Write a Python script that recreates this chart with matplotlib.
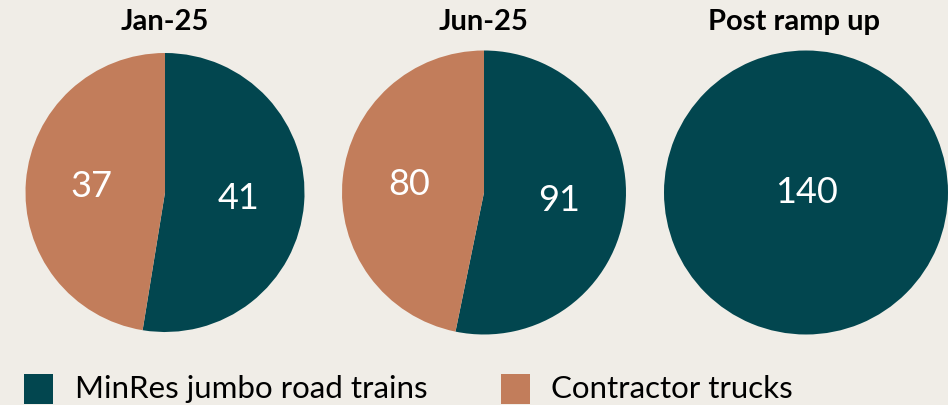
import matplotlib
matplotlib.use("Agg")
import matplotlib.pyplot as plt
from matplotlib.patches import Rectangle

titles = ["Jan-25", "Jun-25", "Post ramp up"]
minres = [41, 91, 140]
contractor = [37, 80, 0]
legend_labels = ["MinRes jumbo road trains", "Contractor trucks"]

TEAL = "#02464F"
ORANGE = "#C27D5B"
BG = "#F0EDE7"

plt.rcParams['font.family'] = ['Lato', 'DejaVu Sans']

W, H = 948, 405
fig = plt.figure(figsize=(W / 100, H / 100), dpi=100, facecolor=BG)

# pie boxes in pixels: (cx, cy, diameter)
boxes = [(165, 192.5, 279), (484, 192.5, 284), (806, 192.5, 284)]
title_x = [165, 484, 794]

for i, (cx, cy, d) in enumerate(boxes):
    ax = fig.add_axes([(cx - d / 2) / W, (H - cy - d / 2) / H, d / W, d / H])
    ax.set_facecolor(BG)
    vals = [minres[i], contractor[i]]
    cols = [TEAL, ORANGE]
    vv = [v for v in vals if v > 0]
    cc = [c for v, c in zip(vals, cols) if v > 0]
    wedges, texts = ax.pie(vv, colors=cc, startangle=90, counterclock=False,
                           radius=1.0, labels=[str(v) for v in vv],
                           labeldistance=0.53 if len(vv) > 1 else 0.0,
                           wedgeprops=dict(linewidth=0),
                           textprops=dict(color="white", fontsize=26,
                                          fontweight="normal", ha="center", va="center"))
    for t in texts:
        t.set_ha("center")
        t.set_va("center")
    ax.set_xlim(-1, 1)
    ax.set_ylim(-1, 1)
    ax.set_aspect("equal")
    ax.axis("off")
    fig.text(title_x[i] / W, (H - 22) / H, titles[i], ha="center", va="center",
             fontsize=21, fontweight="bold", color="black")

# legend
lx = [24, 501]
tx = [75, 551]
for i, lab in enumerate(legend_labels):
    fig.patches.append(Rectangle((lx[i] / W, (H - 404) / H), 29 / W, 30 / H,
                                 transform=fig.transFigure, facecolor=[TEAL, ORANGE][i],
                                 edgecolor="none"))
    fig.text(tx[i] / W, (H - 389) / H, lab, ha="left", va="center",
             fontsize=22.5, color="black")

fig.savefig("out.png", dpi=100, facecolor=BG)
